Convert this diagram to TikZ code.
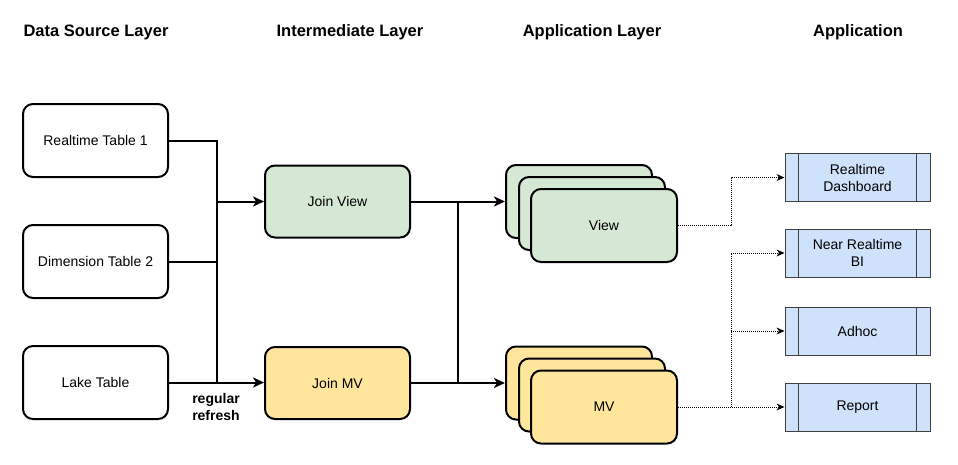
\documentclass[tikz,border=0pt]{standalone}
\usepackage{fontspec}
\setmainfont{Liberation Sans}
\usetikzlibrary{arrows.meta,calc}
\definecolor{gfill}{RGB}{213,232,212}
\definecolor{yfill}{RGB}{255,230,156}
\definecolor{bfill}{RGB}{207,226,251}
\begin{document}
\begin{tikzpicture}[x=1pt,y=-1pt,
  every node/.style={font=\fontsize{14}{17}\selectfont, align=center},
  hdr/.style={font=\fontsize{16.5}{19}\selectfont\bfseries},
  srcbox/.style={draw, line width=2pt, rounded corners=10pt, minimum width=145pt, minimum height=73pt, inner sep=0pt, fill=white},
  gbox/.style={srcbox, fill=gfill},
  ybox/.style={srcbox, fill=yfill},
  appbox/.style={draw=black!75, line width=1pt, fill=bfill, minimum width=145pt, minimum height=48pt, inner sep=0pt},
  flow/.style={line width=2pt, -{Stealth[length=11pt,width=10pt,inset=3pt]}},
  plain/.style={line width=2pt},
  dotline/.style={line width=1pt, dash pattern=on 1pt off 1pt, draw=black},
  dotarrow/.style={dotline, -{Stealth[length=8pt,width=7pt,inset=2.5pt,line width=0pt]}}
]
\useasboundingbox (0,0) rectangle (958,464);
% headers
\node[hdr] (h1) at (96,32) {Data Source Layer};
\node[hdr] (h2) at (350,32) {Intermediate Layer};
\node[hdr] (h3) at (592,32) {Application Layer};
\node[hdr] (h4) at (858,32) {Application};
% sources
\node[srcbox] (rt1) at (95.5,140.5) {Realtime Table 1};
\node[srcbox] (dim) at (95.5,261.5) {Dimension Table 2};
\node[srcbox] (lake) at (95.5,382.5) {Lake Table};
% intermediate
\node[gbox, minimum height=72pt] (jv) at (337.5,201.5) {Join View};
\node[ybox, minimum height=72pt] (jmv) at (337.5,383) {Join MV};
% stacks
\node[gbox, minimum width=146pt] (viewA) at (579,201.5) {};
\node[gbox, minimum width=146pt] (viewB) at (592,213.5) {};
\node[gbox, minimum width=146pt] (view) at (604,225.5) {View};
\node[ybox, minimum width=146pt] (mvA) at (579,383) {};
\node[ybox, minimum width=146pt] (mvB) at (592,395) {};
\node[ybox, minimum width=146pt] (mv) at (604,407) {MV};
% apps
\node[appbox] (rd) at (857.5,177.5) {Realtime\\Dashboard};
\node[appbox] (nrbi) at (857.5,253) {Near Realtime\\BI};
\node[appbox] (adhoc) at (857.5,331) {Adhoc};
\node[appbox] (rep) at (857.5,407) {Report};
\foreach \n in {rd,nrbi,adhoc,rep}{
  \draw[black!75, line width=1pt] ($(\n.north west)+(14,0)$) -- ($(\n.south west)+(14,0)$);
  \draw[black!75, line width=1pt] ($(\n.north east)+(-14,0)$) -- ($(\n.south east)+(-14,0)$);
}
% bus coordinates
\coordinate (bus1) at (217,0);
\coordinate (bus2) at (458,0);
\coordinate (bus3) at (731,0);
% source connectors
\draw[plain] (rt1.east) -- (rt1.east -| bus1) -- (lake.east -| bus1);
\draw[plain] (dim.east) -- (dim.east -| bus1);
\draw[flow] (jv.west -| bus1) -- (jv.west);
\draw[flow] (lake.east) -- (lake.east -| jmv.west);
\node[font=\fontsize{14}{17}\selectfont\bfseries] (rr) at (216,406.5) {regular\\refresh};
% intermediate connectors
\draw[flow] (jv.east) -- (viewA.west);
\draw[flow] (jmv.east) -- (mvA.west);
\draw[plain] (jv.east -| bus2) -- (jmv.east -| bus2);
% app connectors
\draw[dotarrow] (view.east) -- (view.east -| bus3) |- (rd.west);
\draw[dotarrow] (mv.east) -- (rep.west);
\draw[dotarrow] (mv.east -| bus3) |- (nrbi.west);
\draw[dotarrow] (adhoc.west -| bus3) -- (adhoc.west);
\end{tikzpicture}
\end{document}
